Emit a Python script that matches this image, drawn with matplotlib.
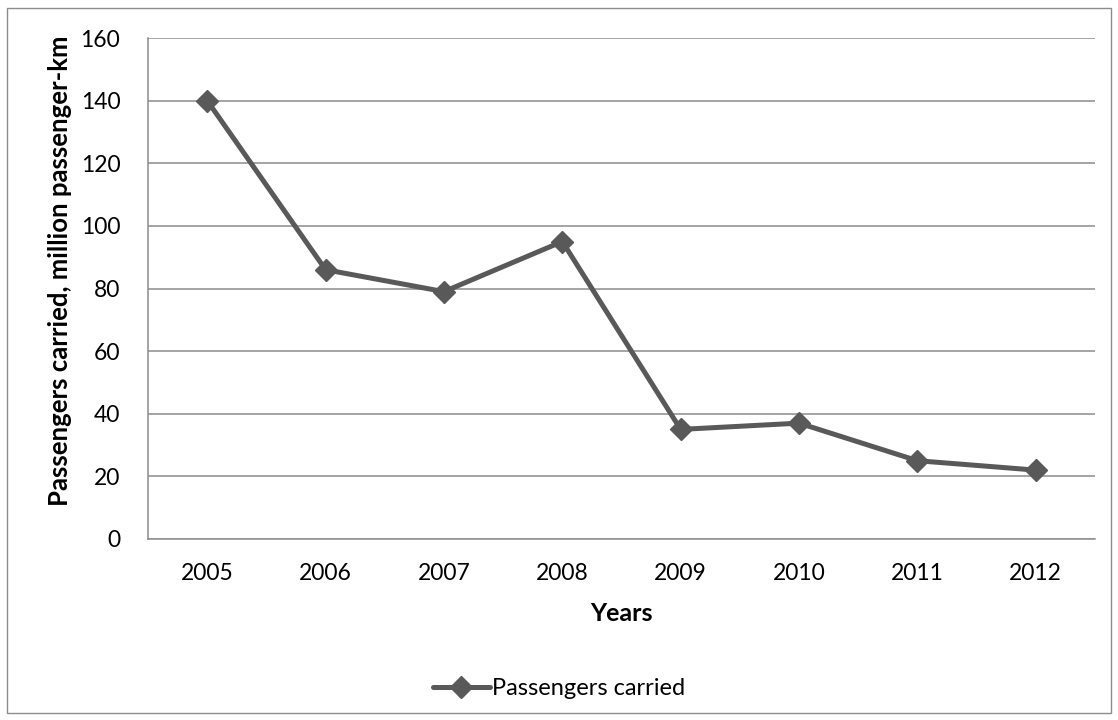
import matplotlib.pyplot as plt
from matplotlib.patches import Rectangle

years = ['2005', '2006', '2007', '2008', '2009', '2010', '2011', '2012']
passengers = [140, 86, 79, 95, 35, 37, 25, 22]
y_ticks = [0, 20, 40, 60, 80, 100, 120, 140, 160]

plt.rcParams['font.family'] = ['Lato', 'DejaVu Sans']

fig = plt.figure(figsize=(11.18, 7.2), dpi=100)
ax = fig.add_axes([0.1324, 0.2514, 0.847, 0.6958])

x = range(len(years))
ax.plot(x, passengers, color='#595959', linewidth=3.6, marker='D',
        markersize=11, label='Passengers carried', solid_capstyle='round')

ax.set_xlim(-0.5, len(years) - 0.5)
ax.set_ylim(0, 160)
ax.set_yticks(y_ticks)
ax.set_xticks(list(x))
ax.set_xticklabels(years)
ax.grid(axis='y', color='#8c8c8c', linewidth=1.1)
ax.set_axisbelow(True)
for s in ['top', 'right']:
	ax.spines[s].set_visible(False)
for s in ['left', 'bottom']:
	ax.spines[s].set_color('#8c8c8c')
	ax.spines[s].set_linewidth(1.1)
ax.tick_params(axis='y', length=0, labelsize=16.5, pad=20)
ax.tick_params(axis='x', length=0, labelsize=16.5, pad=17)

ax.set_xlabel('Years', fontsize=18, fontweight='bold')
ax.set_ylabel('Passengers carried, million passenger-km', fontsize=18.5, fontweight='bold')
ax.xaxis.set_label_coords(0.5, -0.125)
ax.yaxis.set_label_coords(-0.08, 0.535)

fig.legend(loc='center', bbox_to_anchor=(0.5, 0.044), frameon=False, fontsize=17,
           handlelength=2.4, handletextpad=0.1)

fig.patches.append(Rectangle((0.006, 0.01), 0.988, 0.979, transform=fig.transFigure,
                             fill=False, edgecolor='#8c8c8c', linewidth=1))

fig.savefig('out.png', dpi=100)
